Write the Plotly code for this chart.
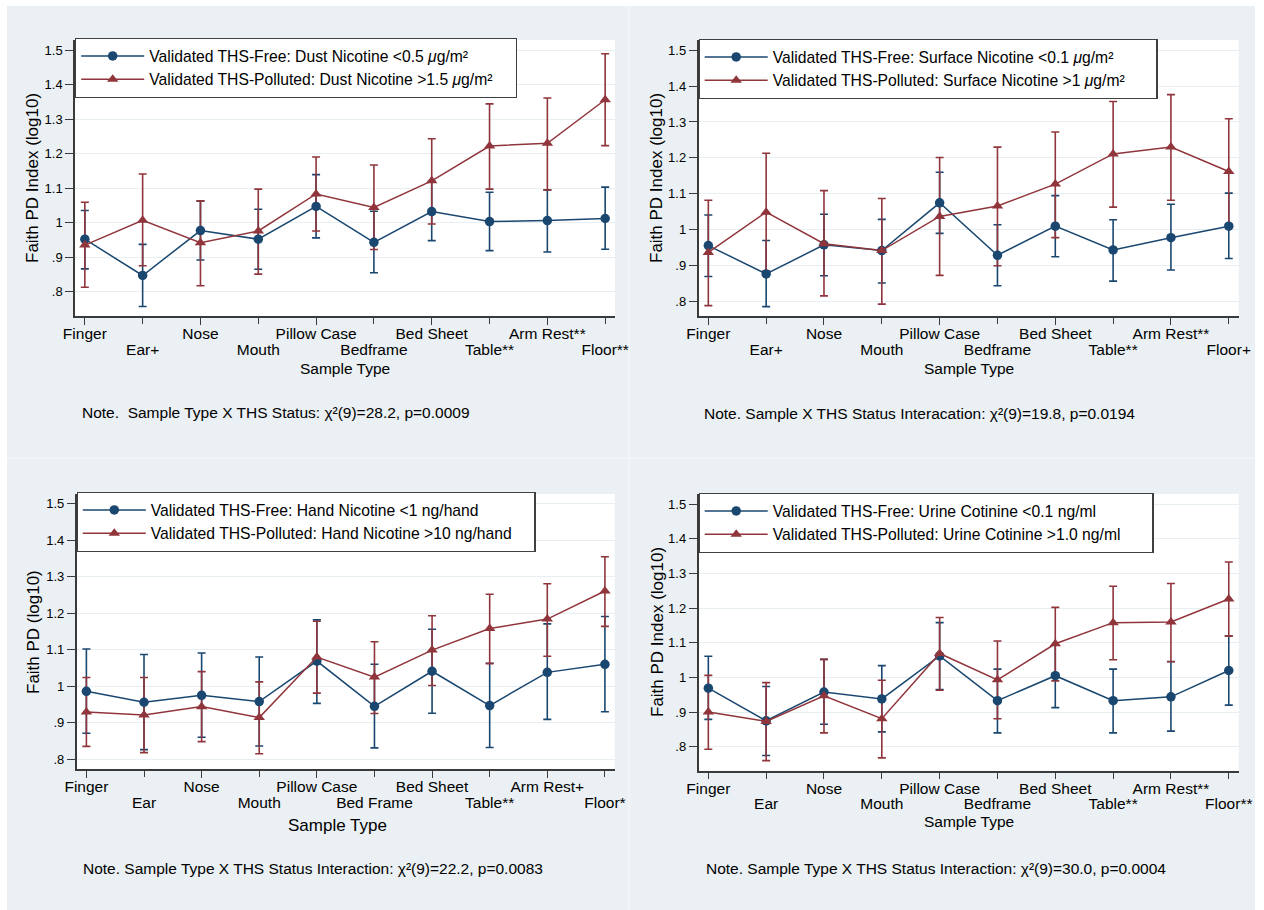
import plotly.graph_objects as go

W, H = 1264, 910

# ---------------- DATA ----------------
cats_dust = ["Finger", "Ear+", "Nose", "Mouth", "Pillow Case", "Bedframe", "Bed Sheet", "Table**", "Arm Rest**", "Floor**"]
cats_surface = ["Finger", "Ear+", "Nose", "Mouth", "Pillow Case", "Bedframe", "Bed Sheet", "Table**", "Arm Rest**", "Floor+"]
cats_hand = ["Finger", "Ear", "Nose", "Mouth", "Pillow Case", "Bed Frame", "Bed Sheet", "Table**", "Arm Rest+", "Floor*"]
cats_urine = ["Finger", "Ear", "Nose", "Mouth", "Pillow Case", "Bedframe", "Bed Sheet", "Table**", "Arm Rest**", "Floor**"]

yticks = [0.8, 0.9, 1.0, 1.1, 1.2, 1.3, 1.4, 1.5]
ytick_text = [".8", ".9", "1", "1.1", "1.2", "1.3", "1.4", "1.5"]

# Panel 1: Dust nicotine
dust_free_mean = [0.952, 0.847, 0.977, 0.952, 1.047, 0.943, 1.032, 1.003, 1.006, 1.012]
dust_free_lo = [0.866, 0.757, 0.892, 0.865, 0.956, 0.855, 0.948, 0.919, 0.915, 0.923]
dust_free_hi = [1.035, 0.937, 1.063, 1.039, 1.139, 1.033, 1.120, 1.088, 1.095, 1.103]
dust_poll_mean = [0.935, 1.007, 0.942, 0.976, 1.083, 1.044, 1.121, 1.222, 1.230, 1.356]
dust_poll_lo = [0.813, 0.875, 0.817, 0.851, 0.976, 0.922, 0.996, 1.097, 1.095, 1.223]
dust_poll_hi = [1.059, 1.141, 1.063, 1.097, 1.190, 1.167, 1.243, 1.344, 1.361, 1.489]

# Panel 2: Surface nicotine
surf_free_mean = [0.956, 0.877, 0.958, 0.942, 1.075, 0.929, 1.010, 0.944, 0.978, 1.010]
surf_free_lo = [0.870, 0.786, 0.872, 0.852, 0.990, 0.844, 0.925, 0.857, 0.888, 0.920]
surf_free_hi = [1.041, 0.970, 1.043, 1.029, 1.160, 1.014, 1.095, 1.028, 1.071, 1.102]
surf_poll_mean = [0.937, 1.049, 0.961, 0.942, 1.037, 1.066, 1.127, 1.211, 1.230, 1.162]
surf_poll_lo = [0.789, 0.885, 0.816, 0.793, 0.873, 0.900, 0.978, 1.063, 1.082, 1.015]
surf_poll_hi = [1.082, 1.213, 1.109, 1.087, 1.201, 1.230, 1.272, 1.357, 1.376, 1.309]

# Panel 3: Hand nicotine
hand_free_mean = [0.986, 0.956, 0.975, 0.958, 1.069, 0.945, 1.041, 0.947, 1.038, 1.060]
hand_free_lo = [0.871, 0.826, 0.860, 0.836, 0.953, 0.831, 0.926, 0.832, 0.909, 0.930]
hand_free_hi = [1.102, 1.087, 1.091, 1.080, 1.182, 1.060, 1.156, 1.063, 1.171, 1.191]
hand_poll_mean = [0.929, 0.921, 0.944, 0.914, 1.080, 1.025, 1.099, 1.158, 1.184, 1.261]
hand_poll_lo = [0.835, 0.818, 0.848, 0.815, 0.981, 0.925, 1.002, 1.062, 1.082, 1.164]
hand_poll_hi = [1.024, 1.024, 1.040, 1.012, 1.178, 1.122, 1.193, 1.252, 1.281, 1.355]

# Panel 4: Urine cotinine
urine_free_mean = [0.969, 0.875, 0.958, 0.938, 1.062, 0.933, 1.005, 0.933, 0.944, 1.020]
urine_free_lo = [0.879, 0.775, 0.865, 0.843, 0.965, 0.840, 0.913, 0.840, 0.845, 0.920]
urine_free_hi = [1.061, 0.974, 1.052, 1.034, 1.158, 1.024, 1.093, 1.024, 1.046, 1.119]
urine_poll_mean = [0.900, 0.873, 0.947, 0.881, 1.069, 0.993, 1.097, 1.158, 1.160, 1.226]
urine_poll_lo = [0.793, 0.760, 0.840, 0.768, 0.963, 0.881, 0.990, 1.051, 1.045, 1.119]
urine_poll_hi = [1.006, 0.985, 1.052, 0.992, 1.173, 1.105, 1.202, 1.263, 1.271, 1.333]

legend_dust = ["Validated THS-Free: Dust Nicotine &lt;0.5 <i>μ</i>g/m²",
               "Validated THS-Polluted: Dust Nicotine &gt;1.5 <i>μ</i>g/m²"]
legend_surface = ["Validated THS-Free: Surface Nicotine &lt;0.1 <i>μ</i>g/m²",
                  "Validated THS-Polluted: Surface Nicotine &gt;1 <i>μ</i>g/m²"]
legend_hand = ["Validated THS-Free: Hand Nicotine &lt;1 ng/hand",
               "Validated THS-Polluted: Hand Nicotine &gt;10 ng/hand"]
legend_urine = ["Validated THS-Free: Urine Cotinine &lt;0.1 ng/ml",
                "Validated THS-Polluted: Urine Cotinine &gt;1.0 ng/ml"]

notes = ["Note.\u00a0 Sample Type X THS Status: χ²(9)=28.2, p=0.0009",
         "Note. Sample X THS Status Interacation: χ²(9)=19.8, p=0.0194",
         "Note. Sample Type X THS Status Interaction: χ²(9)=22.2, p=0.0083",
         "Note. Sample Type X THS Status Interaction: χ²(9)=30.0, p=0.0004"]
ytitles = ["Faith PD Index (log10)", "Faith PD Index (log10)", "Faith PD (log10)", "Faith PD Index (log10)"]
xtitle = "Sample Type"

# ---------------- STYLE / LAYOUT ----------------
BLUE = "#1a476f"
RED = "#90353b"
BG = "#EAF0F3"
GRID = "#E8EFF2"
AX = "#3a3a3a"
FONT = "Liberation Sans, Arial, Helvetica, sans-serif"

panels = [
    dict(cats=cats_dust, data=(dust_free_mean, dust_free_lo, dust_free_hi, dust_poll_mean, dust_poll_lo, dust_poll_hi),
         legend=legend_dust, pad=4, xd=(75, 615), yd=(40, 316), yr=(0.7296, 1.529),
         leg=(75, 38), ytitle=(33, 178), xtitle=(345, 368), xtsize=15.5, note=(80, 413)),
    dict(cats=cats_surface, data=(surf_free_mean, surf_free_lo, surf_free_hi, surf_poll_mean, surf_poll_lo, surf_poll_hi),
         legend=legend_surface, pad=6, xd=(698.5, 1238.6), yd=(40, 316), yr=(0.760, 1.528),
         leg=(698.5, 39), ytitle=(657, 178), xtitle=(968.5, 368), xtsize=15.5, note=(702, 414)),
    dict(cats=cats_hand, data=(hand_free_mean, hand_free_lo, hand_free_hi, hand_poll_mean, hand_poll_lo, hand_poll_hi),
         legend=legend_hand, pad=4, xd=(76.6, 614.7), yd=(494, 769), yr=(0.773, 1.527),
         leg=(76.6, 492), ytitle=(33, 632), xtitle=(337, 825), xtsize=17, note=(81, 868)),
    dict(cats=cats_urine, data=(urine_free_mean, urine_free_lo, urine_free_hi, urine_poll_mean, urine_poll_lo, urine_poll_hi),
         legend=legend_urine, pad=6, xd=(698.5, 1238.6), yd=(494, 770.7), yr=(0.731, 1.529),
         leg=(698.5, 493), ytitle=(657, 632), xtitle=(968.5, 821), xtsize=15.5, note=(704, 868)),
]

def fx(x):
    return x / W

def fy(y):
    return 1 - y / H

fig = go.Figure()
layout = dict(
    width=W, height=H, margin=dict(l=0, r=0, t=0, b=0, pad=0, autoexpand=False),
    paper_bgcolor="white", plot_bgcolor="rgba(0,0,0,0)",
    font=dict(family=FONT, color="black"),
    showlegend=True,
)
shapes = [dict(type="rect", xref="paper", yref="paper", x0=fx(7), x1=fx(1255), y0=fy(910), y1=fy(6),
               fillcolor=BG, line=dict(width=0), layer="below"),
          dict(type="line", xref="paper", yref="paper", x0=fx(629), x1=fx(629), y0=fy(910), y1=fy(6),
               line=dict(color="#F2F5F7", width=2), layer="below"),
          dict(type="line", xref="paper", yref="paper", x0=fx(7), x1=fx(1255), y0=fy(458), y1=fy(458),
               line=dict(color="#F2F5F7", width=2), layer="below")]
annotations = []
xr = [-0.17, 9.17]

for i, p in enumerate(panels):
    n = i + 1
    xa = "x" if n == 1 else f"x{n}"
    ya = "y" if n == 1 else f"y{n}"
    xalt_name = f"x{n + 4}"
    legname = "legend" if n == 1 else f"legend{n}"
    cats = p["cats"]
    xs = list(range(len(cats)))
    fm, fl, fh, pm, pl, ph = p["data"]
    padtxt = "\u00a0" * p["pad"]

    # confidence interval caps
    for mean, lo, hi, col in ((fm, fl, fh, BLUE), (pm, pl, ph, RED)):
        fig.add_trace(go.Scatter(
            x=xs, y=mean, mode="markers", xaxis=xa, yaxis=ya,
            marker=dict(size=1, color="rgba(0,0,0,0)"),
            error_y=dict(type="data", symmetric=False,
                         array=[h - m for h, m in zip(hi, mean)],
                         arrayminus=[m - l for m, l in zip(mean, lo)],
                         color=col, thickness=1.6, width=4),
            showlegend=False, hoverinfo="skip"))
    # lines + markers
    fig.add_trace(go.Scatter(x=xs, y=fm, mode="lines+markers", xaxis=xa, yaxis=ya,
                             line=dict(color=BLUE, width=1.5),
                             marker=dict(symbol="circle", size=9.5, color=BLUE),
                             name=p["legend"][0] + padtxt, legend=legname))
    fig.add_trace(go.Scatter(x=xs, y=pm, mode="lines+markers", xaxis=xa, yaxis=ya,
                             line=dict(color=RED, width=1.5),
                             marker=dict(symbol="triangle-up", size=10, color=RED),
                             name=p["legend"][1] + padtxt, legend=legname))
    # invisible trace so the alternate-row label axis is drawn
    fig.add_trace(go.Scatter(x=[xs[1]], y=[None], mode="markers", xaxis=xalt_name, yaxis=ya,
                             showlegend=False, hoverinfo="skip", marker=dict(opacity=0)))

    xdom = [fx(p["xd"][0]), fx(p["xd"][1])]
    ydom = [fy(p["yd"][1]), fy(p["yd"][0])]
    layout[f"xaxis{n}"] = dict(
        domain=xdom, anchor=ya, range=xr, autorange=False, showgrid=False, zeroline=False,
        showline=True, linecolor=AX, linewidth=1.5, automargin=False,
        ticks="outside", ticklen=7, tickwidth=1.2, tickcolor=AX,
        tickvals=xs[0::2], ticktext=cats[0::2], tickfont=dict(size=15.5),
        ticklabelstandoff=-4)
    layout[f"xaxis{n + 4}"] = dict(
        overlaying=xa, anchor=ya, range=xr, autorange=False, side="bottom", showgrid=False, zeroline=False,
        showline=False, automargin=False, ticks="outside", ticklen=7, tickwidth=1.2, tickcolor=AX,
        tickvals=xs[1::2], ticktext=cats[1::2], tickfont=dict(size=15.5),
        ticklabelstandoff=12)
    layout[f"yaxis{n}"] = dict(
        domain=ydom, anchor=xa, range=list(p["yr"]), autorange=False, showgrid=True, gridcolor=GRID, gridwidth=1.2,
        zeroline=False, showline=True, linecolor=AX, linewidth=1.5, automargin=False,
        ticks="outside", ticklen=8, tickwidth=1.2, tickcolor=AX,
        tickvals=yticks, ticktext=ytick_text, tickfont=dict(size=13))
    layout[legname] = dict(
        x=fx(p["leg"][0]), y=fy(p["leg"][1]), xanchor="left", yanchor="top",
        xref="paper", yref="paper",
        bgcolor="white", bordercolor="#404040", borderwidth=1.2,
        font=dict(size=15.7, family=FONT), itemwidth=63, tracegroupgap=0)

    # white plot region
    shapes.append(dict(type="rect", xref=f"{xa} domain", yref=f"{ya} domain", x0=0, x1=1, y0=0, y1=1,
                       fillcolor="white", line=dict(width=0), layer="below"))

    annotations.append(dict(text=ytitles[i], x=fx(p["ytitle"][0]), y=fy(p["ytitle"][1]),
                            xref="paper", yref="paper", showarrow=False, textangle=-90,
                            xanchor="center", yanchor="middle", font=dict(size=17)))
    annotations.append(dict(text=xtitle, x=fx(p["xtitle"][0]), y=fy(p["xtitle"][1]),
                            xref="paper", yref="paper", showarrow=False,
                            xanchor="center", yanchor="middle", font=dict(size=p["xtsize"])))
    annotations.append(dict(text=notes[i], x=fx(p["note"][0]), y=fy(p["note"][1]),
                            xref="paper", yref="paper", showarrow=False,
                            xanchor="left", yanchor="middle", font=dict(size=15.5)))

layout["shapes"] = shapes
layout["annotations"] = annotations
fig.update_layout(**layout)
fig.write_html("out.html")
